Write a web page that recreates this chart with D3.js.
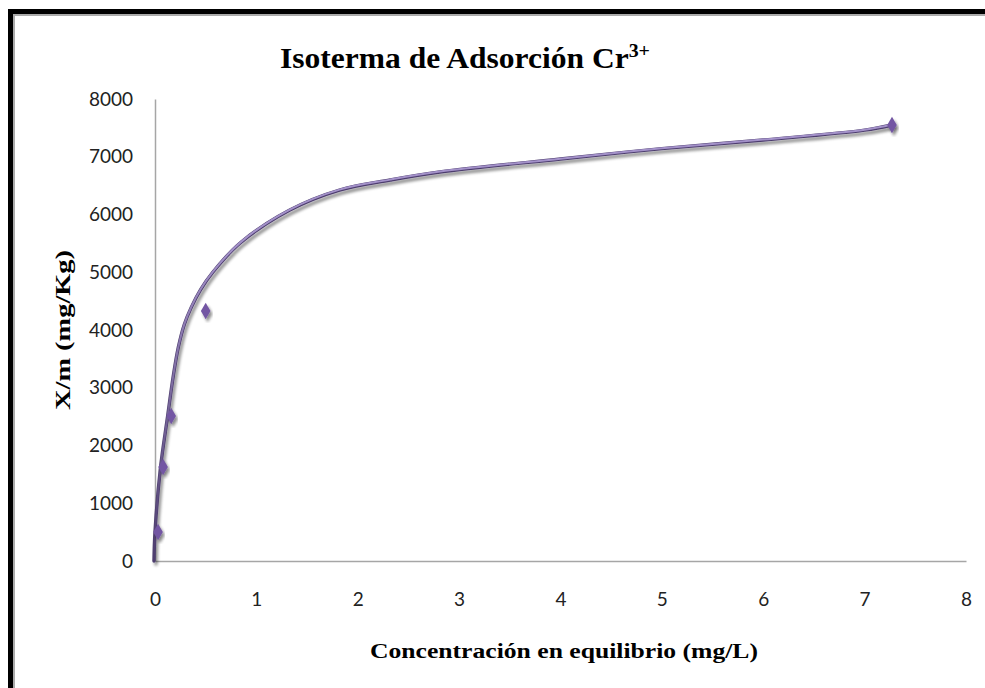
<!DOCTYPE html>
<html>
<head>
<meta charset="utf-8">
<script src="https://cdn.jsdelivr.net/npm/d3@7"></script>
<style>
  html, body { margin: 0; padding: 0; background: #fff; }
  svg { display: block; }
</style>
</head>
<body>
<svg id="chart" width="985" height="688"></svg>
<script>
// Measured adsorption points: equilibrium concentration (mg/L) vs X/m (mg/Kg)
const concentration = [0.03, 0.08, 0.16, 0.50, 7.27];
const uptake        = [502, 1628, 2511, 4329, 7550];

// Fitted isotherm curve, sampled along the trend curve
const curveConc   = [-0.01, 0.00, 0.055, 0.125, 0.18, 0.23, 0.29, 0.36, 0.45, 0.57, 0.84, 1.33, 1.82, 2.32, 2.81, 4.0, 5.0, 6.0, 7.0, 7.27];
const curveUptake = [0, 500, 1628, 2511, 3200, 3700, 4100, 4400, 4700, 5000, 5506, 6078, 6424, 6597, 6736, 6960, 7140, 7290, 7460, 7550];

const xTicks = [0, 1, 2, 3, 4, 5, 6, 7, 8];
const yTicks = [0, 1000, 2000, 3000, 4000, 5000, 6000, 7000, 8000];

const titleMain = "Isoterma de Adsorción Cr";
const titleSup = "3+";
const xLabel = "Concentración en equilibrio (mg/L)";
const yLabel = "X/m (mg/Kg)";

const svg = d3.select("#chart");
const W = 985, H = 688;
const serif = "'Liberation Serif', 'Times New Roman', serif";

const x = d3.scaleLinear().domain([0, 8]).range([155, 966]);
const y = d3.scaleLinear().domain([0, 8000]).range([561, 99]);

const defs = svg.append("defs");
const shadow = defs.append("filter").attr("id", "shadow")
  .attr("x", "-20%").attr("y", "-20%").attr("width", "140%").attr("height", "140%");
shadow.append("feGaussianBlur").attr("in", "SourceAlpha").attr("stdDeviation", 1.8).attr("result", "b");
shadow.append("feOffset").attr("in", "b").attr("dx", 2).attr("dy", 3).attr("result", "o");
shadow.append("feComponentTransfer").attr("in", "o").attr("result", "s")
  .append("feFuncA").attr("type", "linear").attr("slope", 0.45);
const merge = shadow.append("feMerge");
merge.append("feMergeNode").attr("in", "s");
merge.append("feMergeNode").attr("in", "SourceGraphic");

const grad = defs.append("linearGradient").attr("id", "lineHi")
  .attr("gradientUnits", "userSpaceOnUse")
  .attr("x1", 0).attr("y1", 561).attr("x2", 0).attr("y2", 250);
grad.append("stop").attr("offset", 0).attr("stop-color", "#a391c9").attr("stop-opacity", 0);
grad.append("stop").attr("offset", 1).attr("stop-color", "#a391c9").attr("stop-opacity", 1);

// Page frame (top and left edges)
svg.append("rect").attr("x", 8).attr("y", 9).attr("width", W - 8).attr("height", 5).attr("fill", "#000");
svg.append("rect").attr("x", 8).attr("y", 9).attr("width", 5).attr("height", H - 9).attr("fill", "#000");
svg.append("rect").attr("x", 13).attr("y", 14).attr("width", W - 13).attr("height", 2).attr("fill", "#ababab");
svg.append("rect").attr("x", 13).attr("y", 14).attr("width", 2).attr("height", H - 14).attr("fill", "#ababab");

// Axes
const xAxis = d3.axisBottom(x).tickValues(xTicks).tickSize(0).tickPadding(32).tickFormat(d3.format("d"));
const yAxis = d3.axisLeft(y).tickValues(yTicks).tickSize(0).tickPadding(22).tickFormat(d3.format("d"));

const gx = svg.append("g").attr("transform", `translate(0,${y(0)})`).call(xAxis);
const gy = svg.append("g").attr("transform", `translate(${x(0)},0)`).call(yAxis);
[gx, gy].forEach(g => {
  g.select(".domain").attr("stroke", "#a6a6a6").attr("stroke-width", 1.5);
  g.selectAll("text").attr("font-family", "Lato, 'Liberation Sans', sans-serif")
    .attr("font-size", 19).attr("fill", "#222");
});

// Fitted curve
const line = d3.line().x((d, i) => x(curveConc[i])).y((d, i) => y(curveUptake[i]))
  .curve(d3.curveCatmullRom.alpha(0.5));
const curveData = curveConc.map((c, i) => i);

svg.append("path").datum(curveData).attr("d", line)
  .attr("fill", "none").attr("stroke", "#4d3e6e").attr("stroke-width", 3.4)
  .attr("stroke-linecap", "round").attr("filter", "url(#shadow)");
svg.append("path").datum(curveData).attr("d", line)
  .attr("fill", "none").attr("stroke", "url(#lineHi)").attr("stroke-width", 2)
  .attr("stroke-linecap", "round").attr("transform", "translate(0,-0.4)");

// Data markers
const diamond = d3.symbol().type(d3.symbolDiamond).size(80);
svg.append("g").selectAll("path").data(concentration).join("path")
  .attr("d", diamond)
  .attr("transform", (d, i) => `translate(${x(d)},${y(uptake[i])})`)
  .attr("fill", "#7357a3")
  .attr("filter", "url(#shadow)");

// Title
const title = svg.append("text").attr("x", 465).attr("y", 68).attr("text-anchor", "middle")
  .attr("font-family", serif).attr("font-weight", "bold").attr("font-size", 30).attr("fill", "#000")
  .attr("textLength", 370).attr("lengthAdjust", "spacingAndGlyphs");
title.append("tspan").text(titleMain);
title.append("tspan").text(titleSup).attr("font-size", 19).attr("dy", -11);

// Axis titles
svg.append("text").attr("x", 564).attr("y", 658).attr("text-anchor", "middle")
  .attr("font-family", serif).attr("font-weight", "bold").attr("font-size", 22).attr("fill", "#000")
  .attr("textLength", 388).attr("lengthAdjust", "spacingAndGlyphs")
  .text(xLabel);

svg.append("text").attr("transform", "translate(70,330) rotate(-90)").attr("text-anchor", "middle")
  .attr("font-family", serif).attr("font-weight", "bold").attr("font-size", 22).attr("fill", "#000")
  .attr("textLength", 160).attr("lengthAdjust", "spacingAndGlyphs")
  .text(yLabel);
</script>
</body>
</html>
